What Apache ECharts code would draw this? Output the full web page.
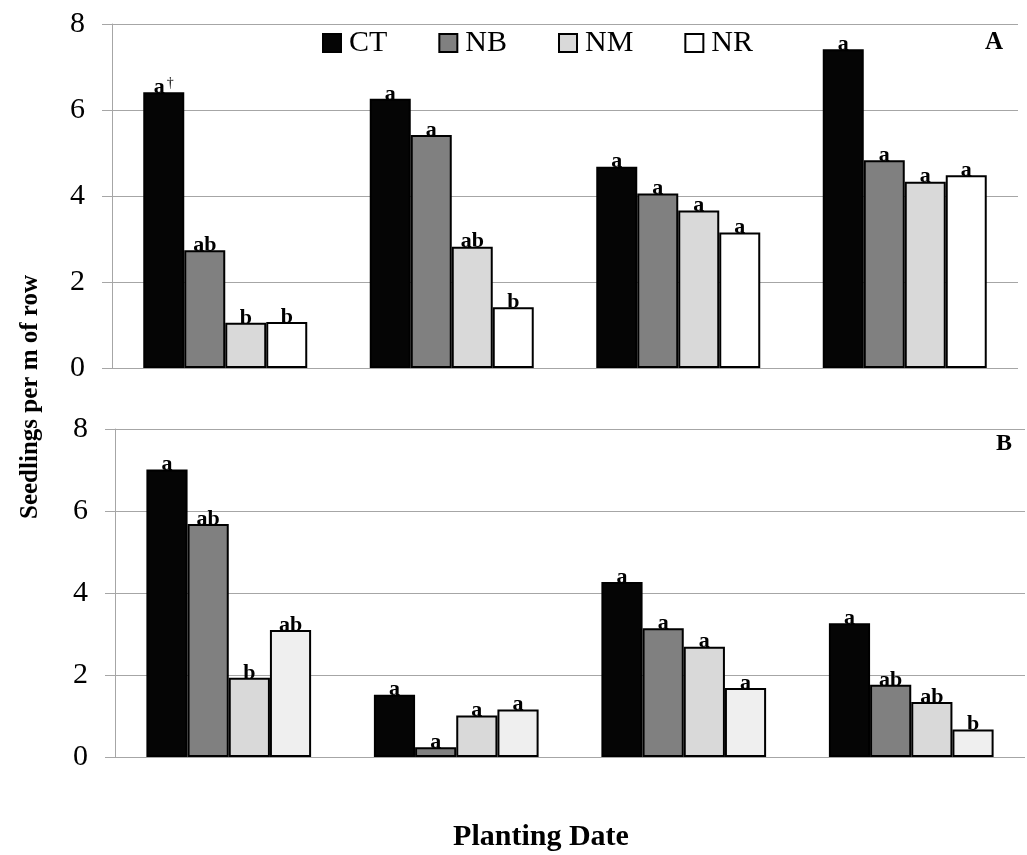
<!DOCTYPE html>
<html>
<head>
<meta charset="utf-8">
<script src="https://cdn.jsdelivr.net/npm/echarts@6/dist/echarts.min.js"></script>
<style>
html,body{margin:0;padding:0;background:#fff;}
#chart{width:1027px;height:855px;}
</style>
</head>
<body>
<div id="chart"></div>
<script>
// ---- data ----
var categories = ['Date 1', 'Date 2', 'Date 3', 'Date 4'];
var seriesNames = ['CT', 'NB', 'NM', 'NR'];
var yTicks = [0, 2, 4, 6, 8];

// Panel A
var topCT = [6.41, 6.26, 4.68, 7.41];
var topNB = [2.74, 5.42, 4.06, 4.83];
var topNM = [1.05, 2.82, 3.66, 4.33];
var topNR = [1.07, 1.41, 3.15, 4.48];
var topCTLetters = ['a†', 'a', 'a', 'a'];
var topNBLetters = ['ab', 'a', 'a', 'a'];
var topNMLetters = ['b', 'ab', 'a', 'a'];
var topNRLetters = ['b', 'b', 'a', 'a'];

// Panel B
var botCT = [7.01, 1.52, 4.27, 3.26];
var botNB = [5.68, 0.24, 3.14, 1.76];
var botNM = [1.93, 1.01, 2.69, 1.34];
var botNR = [3.10, 1.16, 1.68, 0.67];
var botCTLetters = ['a', 'a', 'a', 'a'];
var botNBLetters = ['ab', 'a', 'a', 'ab'];
var botNMLetters = ['b', 'a', 'a', 'ab'];
var botNRLetters = ['ab', 'a', 'a', 'b'];

// ---- styling ----
var SERIF = "'Liberation Serif', 'Times New Roman', serif";
var topColors = ['#050505', '#808080', '#d9d9d9', '#ffffff'];
var botColors = ['#050505', '#808080', '#d9d9d9', '#efefef'];
var gridColor = '#a6a6a6';

var topValues = [topCT, topNB, topNM, topNR];
var topLetters = [topCTLetters, topNBLetters, topNMLetters, topNRLetters];
var botValues = [botCT, botNB, botNM, botNR];
var botLetters = [botCTLetters, botNBLetters, botNMLetters, botNRLetters];

function makeSeries(values, letters, colors, axisIndex) {
  return values.map(function (vals, i) {
    return {
      name: seriesNames[i],
      type: 'bar',
      xAxisIndex: axisIndex,
      yAxisIndex: axisIndex,
      data: vals,
      barGap: '0%',
      barCategoryGap: '27.6%',
      itemStyle: { color: colors[i], borderColor: '#000', borderWidth: 2 },
      label: {
        show: true,
        position: 'top',
        distance: -6,
        formatter: function (p) {
          var s = letters[i][p.dataIndex];
          return s.indexOf('†') >= 0 ? '{b|' + s.replace('†', '') + '}{sup|†}' : '{b|' + s + '}';
        },
        rich: {
          b: { fontFamily: SERIF, fontWeight: 'bold', fontSize: 22, color: '#000', lineHeight: 22 },
          sup: { fontFamily: SERIF, fontSize: 14, color: '#000', lineHeight: 22, verticalAlign: 'top', padding: [0, 0, 8, 2] }
        }
      },
      emphasis: { disabled: true },
      animation: false
    };
  });
}

function yAxis(gridIndex) {
  return {
    type: 'value',
    gridIndex: gridIndex,
    min: 0, max: 8, interval: 2,
    axisLine: { show: true, lineStyle: { color: gridColor, width: 1 } },
    axisTick: { show: true, length: 10, lineStyle: { color: gridColor } },
    axisLabel: {
      margin: 27, color: '#000', fontFamily: SERIF, fontSize: 30,
      formatter: function (v) { return yTicks.indexOf(v) >= 0 ? String(v) : ''; }
    },
    splitLine: { show: true, lineStyle: { color: gridColor, width: 1 } }
  };
}

function xAxis(gridIndex) {
  return {
    type: 'category',
    gridIndex: gridIndex,
    data: categories,
    axisLine: { show: false },
    axisTick: { show: false },
    axisLabel: { show: false },
    splitLine: { show: false }
  };
}

var option = {
  backgroundColor: '#fff',
  animation: false,
  grid: [
    { left: 112, top: 24, width: 906, height: 344 },
    { left: 115, top: 429, width: 910, height: 328 }
  ],
  legend: {
    data: seriesNames,
    left: 322,
    top: 28,
    padding: 0,
    itemWidth: 18,
    itemHeight: 18,
    itemGap: 51,
    icon: 'rect',
    textStyle: { fontFamily: SERIF, fontSize: 30, color: '#000', padding: [0, 0, 0, 3] },
    selectedMode: false
  },
  xAxis: [xAxis(0), xAxis(1)],
  yAxis: [yAxis(0), yAxis(1)],
  series: makeSeries(topValues, topLetters, topColors, 0).concat(makeSeries(botValues, botLetters, botColors, 1)),
  graphic: [
    { type: 'text', left: 985, top: 30, style: { text: 'A', fontFamily: SERIF, fontWeight: 'bold', fontSize: 25, fill: '#000' } },
    { type: 'text', left: 996, top: 432, style: { text: 'B', fontFamily: SERIF, fontWeight: 'bold', fontSize: 24, fill: '#000' } },
    { type: 'text', x: 31, y: 397, rotation: Math.PI / 2,
      style: { text: 'Seedlings per m of row', fontFamily: SERIF, fontWeight: 'bold', fontSize: 25, fill: '#000', align: 'center', verticalAlign: 'middle' } },
    { type: 'text', x: 541, y: 837,
      style: { text: 'Planting Date', fontFamily: SERIF, fontWeight: 'bold', fontSize: 30, fill: '#000', align: 'center', verticalAlign: 'middle' } }
  ]
};

var chart = echarts.init(document.getElementById('chart'), null, { renderer: 'canvas' });
chart.setOption(option);
</script>
</body>
</html>
